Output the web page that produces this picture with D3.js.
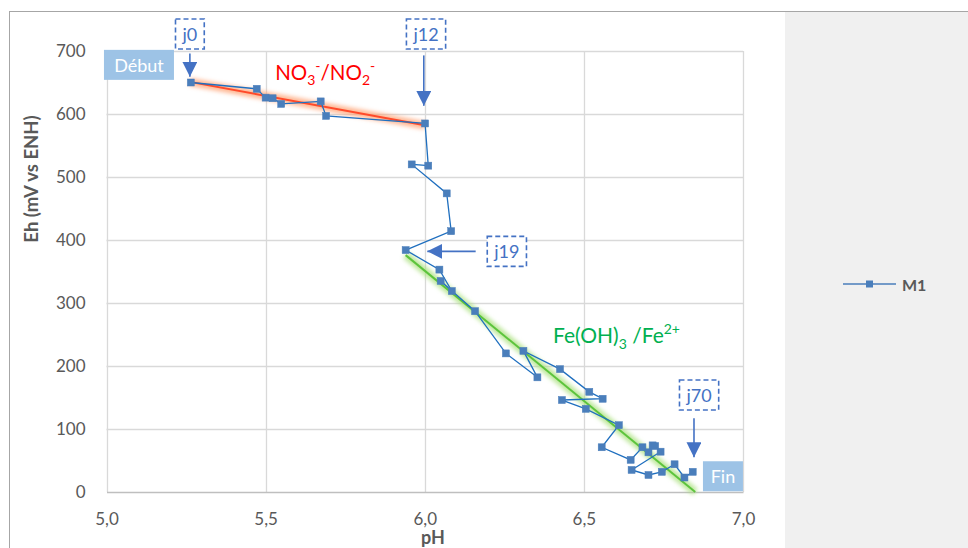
<!DOCTYPE html>
<html><head><meta charset="utf-8">
<script src="https://cdn.jsdelivr.net/npm/d3@7"></script>
<style>
html,body{margin:0;padding:0;background:#fff;}
svg{display:block;font-family:Lato,"Open Sans",sans-serif;}
</style></head>
<body>
<svg id="chart" width="968" height="548"></svg>
<script>
// ---- data ----
const seriesName = "M1";
const pH = [5.265,5.472,5.500,5.522,5.549,5.673,5.690,6.001,6.011,5.959,6.069,6.083,5.940,6.046,6.085,6.050,6.158,6.255,6.354,6.310,6.425,6.517,6.559,6.431,6.506,6.610,6.556,6.647,6.684,6.703,6.716,6.724,6.741,6.650,6.703,6.745,6.785,6.816,6.842];
const Eh = [650,640,626,625,616,620,597,585,518,520,474,414,384,353,319,335,287,220,182,224,195,159,148,146,132,106,71,51,71,63,74,73,64,35,27,32,44,23,32];
const xTicks = [5.0,5.5,6.0,6.5,7.0];
const yTicks = [0,100,200,300,400,500,600,700];
const xTitle = "pH";
const yTitle = "Eh (mV vs ENH)";
// trend lines [pH, Eh] endpoints
const nitrateLine = [[5.262,651],[6.0,582]];
const ironLine = [[5.94,376],[6.85,0]];
// day annotations: label, box centre [pH,Eh], arrow from [pH,Eh] to [pH,Eh]
const dayLabels = ["j0","j12","j19","j70"];
const dayBoxes = [[5.262,727],[6.004,727],[6.258,382],[6.862,154]];
const dayArrowFrom = [[5.262,696],[5.997,693],[6.16,382],[6.846,117]];
const dayArrowTo = [[5.262,659],[5.997,613],[6.008,382],[6.846,55]];
// start / end tags
const tagLabels = ["Début","Fin"];
const tagCentres = [[5.102,678],[6.937,25]];
const tagSizes = [[70,30],[40,30]];

// ---- layout ----
const svg = d3.select("#chart");
const x = d3.scaleLinear().domain([5,7]).range([106.5,743]);
const y = d3.scaleLinear().domain([0,700]).range([492,51]);

const defs = svg.append("defs");
defs.append("filter").attr("id","glow").attr("x","-10%").attr("y","-50%").attr("width","120%").attr("height","200%")
  .append("feGaussianBlur").attr("stdDeviation",2.2);
const ah = defs.append("marker").attr("id","arrow").attr("viewBox","0 0 10 10")
  .attr("refX",10).attr("refY",5).attr("markerUnits","userSpaceOnUse")
  .attr("markerWidth",15).attr("markerHeight",15).attr("orient","auto");
ah.append("path").attr("d","M0,0 L10,5 L0,10 Z").attr("fill","#4472c4");

// chart frame
svg.append("rect").attr("x",785).attr("y",11).attr("width",183).attr("height",537).attr("fill","#f0f0f0");
svg.append("line").attr("x1",9).attr("x2",968).attr("y1",11.5).attr("y2",11.5).attr("stroke","#a6a6a6");
svg.append("line").attr("x1",9.5).attr("x2",9.5).attr("y1",11).attr("y2",548).attr("stroke","#a6a6a6");

// gridlines
const g = svg.append("g");
g.selectAll(".hg").data(yTicks.filter(d=>d>0)).join("line")
  .attr("x1",x(5)).attr("x2",x(7)).attr("y1",d=>Math.round(y(d))+0.5).attr("y2",d=>Math.round(y(d))+0.5)
  .attr("stroke","#d9d9d9").attr("stroke-width",1.3);
g.selectAll(".vg").data(xTicks).join("line")
  .attr("y1",y(0)).attr("y2",y(700)).attr("x1",d=>Math.round(x(d))+0.5).attr("x2",d=>Math.round(x(d))+0.5)
  .attr("stroke","#d9d9d9").attr("stroke-width",1.3);

// axes
const fmt = d=>d3.format(".1f")(d).replace(".",",");
const xAxis = svg.append("g").attr("transform",`translate(0,${y(0)})`)
  .call(d3.axisBottom(x).tickValues(xTicks).tickFormat(fmt).tickSize(0).tickPadding(21));
xAxis.select(".domain").attr("stroke","#bfbfbf").attr("stroke-width",1.5);
xAxis.selectAll("text").attr("fill","#595959").style("font-size","17px").style("font-family","Lato");
const yAxis = svg.append("g").attr("transform",`translate(${x(5)},0)`)
  .call(d3.axisLeft(y).tickValues(yTicks).tickSize(0).tickPadding(21));
yAxis.select(".domain").remove();
yAxis.selectAll("text").attr("fill","#595959").style("font-size","17px").style("font-family","Lato");

svg.append("text").attr("x",433).attr("y",544).attr("text-anchor","middle")
  .attr("fill","#595959").style("font-size","18px").style("font-weight","bold").text(xTitle);
svg.append("text").attr("transform","translate(38,179) rotate(-90)").attr("text-anchor","middle")
  .attr("fill","#595959").style("font-size","18.5px").style("font-weight","bold").text(yTitle);

// trend lines with glow
function trend(pts, glowCol, coreCol){
  const l = d3.line().x(d=>x(d[0])).y(d=>y(d[1]));
  svg.append("path").attr("d",l(pts)).attr("stroke",glowCol).attr("stroke-width",8).attr("fill","none")
    .attr("stroke-opacity",0.75).attr("filter","url(#glow)");
  svg.append("path").attr("d",l(pts)).attr("stroke",coreCol).attr("stroke-width",2).attr("fill","none");
}
trend(nitrateLine,"#ffa070","#ff4a2a");
trend(ironLine,"#a9e07c","#5cc43c");

// series
const data = pH.map((p,i)=>[p,Eh[i]]);
svg.append("path").datum(data).attr("fill","none").attr("stroke","#1f6fbf").attr("stroke-width",1.3)
  .attr("d",d3.line().x(d=>x(d[0])).y(d=>y(d[1])));
svg.selectAll(".mk").data(data).join("rect")
  .attr("x",d=>x(d[0])-3.5).attr("y",d=>y(d[1])-3.5).attr("width",7).attr("height",7)
  .attr("fill","#4a7ebb").attr("stroke","#4a7ebb").attr("stroke-width",0.5);

// couple labels
const lab1 = svg.append("text").attr("x",x(5.53)).attr("y",y(654)).attr("fill","#ff0000").style("font-size","20.5px");
lab1.append("tspan").text("NO");
lab1.append("tspan").attr("dy",5).style("font-size","14px").text("3");
lab1.append("tspan").attr("dy",-14).style("font-size","14px").text("-");
lab1.append("tspan").attr("dy",9).text("/NO");
lab1.append("tspan").attr("dy",5).style("font-size","14px").text("2");
lab1.append("tspan").attr("dy",-14).style("font-size","14px").text("-");

const lab2 = svg.append("text").attr("x",x(6.403)).attr("y",y(237)).attr("fill","#00b050").style("font-size","21px");
lab2.append("tspan").text("Fe(OH)");
lab2.append("tspan").attr("dy",6).style("font-size","14px").text("3");
lab2.append("tspan").attr("dy",-6).text(" /Fe");
lab2.append("tspan").attr("dy",-9).style("font-size","14px").text("2+");

// day annotations
dayLabels.forEach((lab,i)=>{
  const cx = x(dayBoxes[i][0]), cy = y(dayBoxes[i][1]);
  const grp = svg.append("g");
  const box = grp.append("rect");
  const t = grp.append("text").attr("x",cx).attr("y",cy).attr("text-anchor","middle")
    .attr("dominant-baseline","central").attr("fill","#4472c4").style("font-size","18px").text(lab);
  const w = t.node().getComputedTextLength()+14, h = 30;
  box.attr("x",cx-w/2).attr("y",cy-h/2).attr("width",w).attr("height",h)
    .attr("fill","#fff").attr("stroke","#4472c4").attr("stroke-width",1.6).attr("stroke-dasharray","5,3");
  grp.append("line").attr("x1",x(dayArrowFrom[i][0])).attr("y1",y(dayArrowFrom[i][1]))
    .attr("x2",x(dayArrowTo[i][0])).attr("y2",y(dayArrowTo[i][1]))
    .attr("stroke","#4472c4").attr("stroke-width",1.6).attr("marker-end","url(#arrow)");
});

// start / end tags
tagLabels.forEach((lab,i)=>{
  const cx = x(tagCentres[i][0]), cy = y(tagCentres[i][1]);
  const [w,h] = tagSizes[i];
  svg.append("rect").attr("x",cx-w/2).attr("y",cy-h/2).attr("width",w).attr("height",h).attr("fill","#9dc3e6");
  svg.append("text").attr("x",cx).attr("y",cy).attr("text-anchor","middle").attr("dominant-baseline","central")
    .attr("fill","#fff").style("font-size","18px").text(lab);
});

// legend
const lg = svg.append("g");
lg.append("line").attr("x1",843).attr("x2",896).attr("y1",284).attr("y2",284).attr("stroke","#4a7ebb").attr("stroke-width",1.5);
lg.append("rect").attr("x",866).attr("y",280.5).attr("width",7).attr("height",7).attr("fill","#4a7ebb");
lg.append("text").attr("x",902).attr("y",284).attr("dominant-baseline","central").attr("fill","#595959")
  .style("font-size","16px").style("font-weight","bold").text(seriesName);
</script>
</body></html>
